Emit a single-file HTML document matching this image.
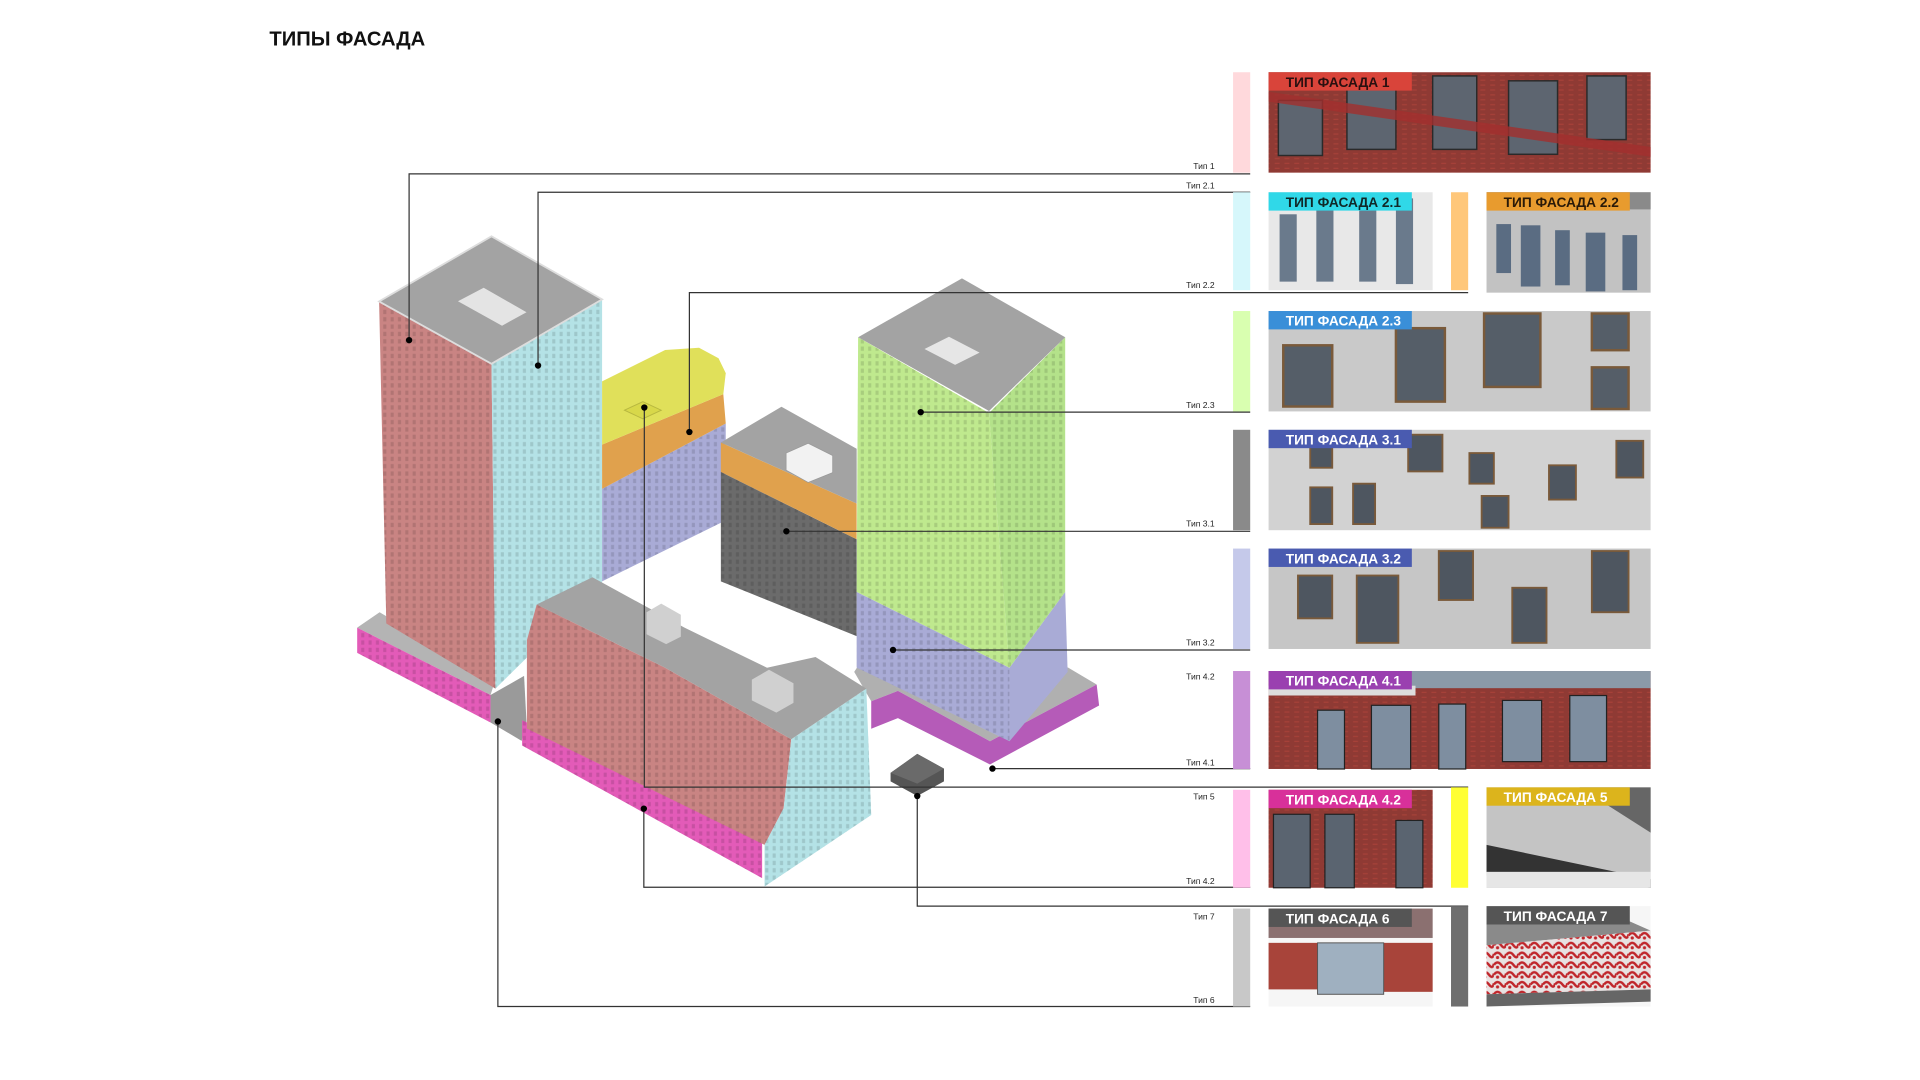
<!DOCTYPE html>
<html><head><meta charset="utf-8"><style>
html,body{margin:0;padding:0;background:#fff;width:1920px;height:1080px;overflow:hidden}
svg{display:block}
text{font-family:"Liberation Sans","DejaVu Sans",sans-serif}
</style></head><body>
<svg width="1920" height="1080" viewBox="0 0 1568 882" xmlns="http://www.w3.org/2000/svg">
<defs>
<pattern id="win" width="6" height="6" patternUnits="userSpaceOnUse"><rect width="6" height="6" fill="none"/><rect x="1" y="1" width="2.5" height="3.5" fill="#000" opacity=".12"/></pattern>
<pattern id="brick" width="8" height="4" patternUnits="userSpaceOnUse"><rect width="8" height="4" fill="#8f3a34"/><rect x="1" y="1" width="4" height="1" fill="#b0453c" opacity=".7"/></pattern>
<pattern id="tex7" width="10" height="8" patternUnits="userSpaceOnUse"><rect width="10" height="8" fill="#e8e2e2"/><path d="M0 4 Q3 0 6 4 T10 3" stroke="#c0262b" stroke-width="2" fill="none"/><circle cx="3" cy="6" r="1.3" fill="#c0262b"/></pattern>
</defs>

<text x="220" y="37" font-size="16.5" font-weight="bold" fill="#111">ТИПЫ ФАСАДА</text>

<!-- LEFT TOWER -->
<polygon points="291.7,512.6 310,500 404.6,555 400.6,567.6" fill="#b4b4b4"/>
<polygon points="291.7,512.6 400.6,567.6 400.6,590 291.7,533.2" fill="#e35bb8"/>
<polygon points="291.7,512.6 400.6,567.6 400.6,590 291.7,533.2" fill="url(#win)"/>
<polygon points="309.6,246.2 401.4,297.1 404.6,562.4 315.5,509.2" fill="#c98483"/>
<polygon points="309.6,246.2 401.4,297.1 404.6,562.4 315.5,509.2" fill="url(#win)"/>
<polygon points="401.4,297.1 491.7,244.5 491.7,476.5 404.6,562.4" fill="#b4e2e6"/>
<polygon points="401.4,297.1 491.7,244.5 491.7,476.5 404.6,562.4" fill="url(#win)"/>
<polygon points="309.6,246.2 401.4,193 491.7,244.5 401.4,297.1" fill="#a3a3a3" stroke="#ddd" stroke-width="1.5"/>
<polygon points="374,246 395,235 430,255 410,266" fill="#e4e4e4"/>

<!-- MIDDLE BACK BUILDING -->
<polygon points="491.7,399.2 592.7,345.9 592.7,425 491.7,474.8" fill="#a9abd6"/>
<polygon points="491.7,399.2 592.7,345.9 592.7,425 491.7,474.8" fill="url(#win)"/>
<polygon points="491.7,363.1 590.7,321.9 592.7,345.9 491.7,399.2" fill="#e0a14d"/>
<polygon points="491.7,311.5 543.2,285.8 570.9,284 586.8,292.6 592.7,304.7 590.7,321.9 491.7,363.1" fill="#e0e05a"/>
<polygon points="510,335 525,328 540,335 525,342" fill="#d8d84a" stroke="#b8b840" stroke-width=".8"/>

<!-- DARK CENTER BUILDING -->
<polygon points="588.7,385.4 699.6,440.4 699.6,519.5 588.7,474.8" fill="#6b6b6b"/>
<polygon points="588.7,385.4 699.6,440.4 699.6,519.5 588.7,474.8" fill="url(#win)"/>
<polygon points="588.7,361.4 699.6,411.2 699.6,440.4 588.7,385.4" fill="#e0a14d"/>
<polygon points="588.7,361.4 638.2,332.2 699.6,366.5 699.6,411.2" fill="#a3a3a3"/>
<polygon points="642,370 660,362 680,372 680,386 660,394 642,384" fill="#f2f2f2" stroke="#999" stroke-width=".6"/>

<!-- RIGHT TOWER -->
<polygon points="697.6,548.7 711.5,572.7 733.3,564.2 808.5,605.4 895.6,559 872,545 824,605 700,545" fill="#b0b0b0"/>
<polygon points="711.5,572.7 733.3,564.2 808.5,605.4 895.6,559 897.6,576.2 808.5,624.3 733.3,586.5 711.5,595.1" fill="#b55bb8"/>
<polygon points="699.6,483.4 824.4,545.3 824.4,605.4 699.6,545.2" fill="#a9abd6"/>
<polygon points="824.4,545.3 869.9,483.4 871.9,548.7 824.4,605.4" fill="#a9abd6"/>
<polygon points="699.6,483.4 824.4,545.3 824.4,605.4 699.6,545.2" fill="url(#win)"/>
<polygon points="700.8,275.4 807.7,337.3 824.4,545.3 699.6,483.4" fill="#bfe98e"/>
<polygon points="807.7,337.3 869.9,275.4 869.9,483.4 824.4,545.3" fill="#b4e28a"/>
<polygon points="700.8,275.4 807.7,337.3 824.4,545.3 699.6,483.4" fill="url(#win)"/>
<polygon points="807.7,337.3 869.9,275.4 869.9,483.4 824.4,545.3" fill="url(#win)"/>
<polygon points="700.8,275.4 785.6,227.3 869.9,275.4 807.7,335.6" fill="#a3a3a3"/>
<polygon points="755,285 775,275 800,288 780,298" fill="#e6e6e6"/>

<!-- SOUTH BUILDING -->
<polygon points="400.6,567.6 428,552 430,590 426,605 400.6,590" fill="#9a9a9a"/>
<polygon points="426.4,588.2 622.4,679.3 622.4,717.1 426.4,608.8" fill="#e35bb8"/>
<polygon points="426.4,588.2 622.4,679.3 622.4,717.1 426.4,608.8" fill="url(#win)"/>
<polygon points="438.3,493.7 543.2,545.3 646.2,603.7 640,660 624.4,690 430.3,595 430.3,522.9" fill="#c98483"/>
<polygon points="438.3,493.7 543.2,545.3 646.2,603.7 640,660 624.4,690 430.3,595 430.3,522.9" fill="url(#win)"/>
<polygon points="646.2,603.7 707.5,562.4 711.5,665.6 624.4,724 624.4,690 640,660" fill="#b4e2e6"/>
<polygon points="646.2,603.7 707.5,562.4 711.5,665.6 624.4,724 624.4,690 640,660" fill="url(#win)"/>
<polygon points="438.3,493.7 483.8,471.4 559,512.6 626.4,545.3 666,536.6 707.5,562.4 646.2,603.7 543.2,545.3" fill="#a3a3a3"/>
<polygon points="528,500 540,493 556,502 556,520 544,526 528,518" fill="#d0d0d0"/>
<polygon points="614,555 628,547 648,558 648,574 634,582 614,572" fill="#d0d0d0"/>

<!-- small box -->
<polygon points="727.3,631.2 749.1,615.7 770.9,627.7 770.9,638.1 749.1,650.1 727.3,638.1" fill="#555"/>
<polygon points="727.3,631.2 749.1,615.7 770.9,627.7 749.1,640" fill="#6a6a6a"/>

<!-- LEADERS -->
<g stroke="#333" stroke-width="1" fill="none">
<polyline points="334.1,277.8 334.1,142 1021,142"/>
<polyline points="439.4,298.5 439.4,157 1021,157"/>
<polyline points="563,352.8 563,239 1199,239"/>
<polyline points="751.9,336.6 1021,336.6"/>
<polyline points="642.2,433.9 1021,433.9"/>
<polyline points="729.3,530.8 1021,530.8"/>
<polyline points="810.5,627.7 1021,627.7"/>
<polyline points="526.2,332.8 526.2,642.8 1199,642.8"/>
<polyline points="525.8,660.4 525.8,724.6 1021,724.6"/>
<polyline points="749.1,650.1 749.1,740 1199,740"/>
<polyline points="406.6,589.2 406.6,822 1021,822"/>
</g>
<g fill="#000">
<circle cx="334.1" cy="277.8" r="2.6"/><circle cx="439.4" cy="298.5" r="2.6"/><circle cx="563" cy="352.8" r="2.6"/>
<circle cx="751.9" cy="336.6" r="2.6"/><circle cx="642.2" cy="433.9" r="2.6"/><circle cx="729.3" cy="530.8" r="2.6"/>
<circle cx="810.5" cy="627.7" r="2.6"/><circle cx="526.2" cy="332.8" r="2.6"/><circle cx="525.8" cy="660.4" r="2.6"/>
<circle cx="749.1" cy="650.1" r="2.6"/><circle cx="406.6" cy="589.2" r="2.6"/>
</g>
<g font-size="7" fill="#222" text-anchor="end">
<text x="992" y="138">Тип 1</text><text x="992" y="154">Тип 2.1</text><text x="992" y="235">Тип 2.2</text>
<text x="992" y="333">Тип 2.3</text><text x="992" y="430">Тип 3.1</text><text x="992" y="527">Тип 3.2</text>
<text x="992" y="555">Тип 4.2</text><text x="992" y="625">Тип 4.1</text><text x="992" y="653">Тип 5</text>
<text x="992" y="722">Тип 4.2</text><text x="992" y="751">Тип 7</text><text x="992" y="819">Тип 6</text>
</g>

<!-- SWATCHES -->
<rect x="1007" y="59" width="14" height="82" fill="#ffd9dc"/>
<rect x="1007" y="157" width="14" height="80" fill="#d6f7fb"/>
<rect x="1185" y="157" width="14" height="80" fill="#ffc77a"/>
<rect x="1007" y="254" width="14" height="82" fill="#d9ffb0"/>
<rect x="1007" y="351" width="14" height="82" fill="#8a8a8a"/>
<rect x="1007" y="448" width="14" height="82" fill="#c5c9ea"/>
<rect x="1007" y="548" width="14" height="80" fill="#c78fd6"/>
<rect x="1007" y="645" width="14" height="80" fill="#ffbfe9"/>
<rect x="1185" y="643" width="14" height="82" fill="#ffff33"/>
<rect x="1007" y="742" width="14" height="80" fill="#c8c8c8"/>
<rect x="1185" y="740" width="14" height="82" fill="#6e6e6e"/>

<!-- IMAGES -->
<!-- 1 -->
<rect x="1036" y="59" width="312" height="82" fill="url(#brick)"/>
<g fill="#5d6570" stroke="#2a2a2a" stroke-width="1.2">
<rect x="1044" y="82" width="36" height="45"/><rect x="1100" y="72" width="40" height="50"/><rect x="1170" y="62" width="36" height="60"/><rect x="1232" y="66" width="40" height="60"/><rect x="1296" y="62" width="32" height="52"/>
</g>
<polygon points="1036,75 1348,120 1348,128 1036,83" fill="#a3302e" opacity=".8"/>
<!-- 2.1 -->
<rect x="1036" y="157" width="134" height="80" fill="#e8e8e8"/>
<g fill="#6a7a8c"><rect x="1045" y="175" width="14" height="55"/><rect x="1075" y="170" width="14" height="60"/><rect x="1110" y="165" width="14" height="65"/><rect x="1140" y="162" width="14" height="70"/></g>
<!-- 2.2 -->
<rect x="1214" y="157" width="134" height="82" fill="#c2c2c2"/>
<rect x="1214" y="157" width="134" height="14" fill="#8a8a8a"/>
<g fill="#5a6c82"><rect x="1222" y="183" width="12" height="40"/><rect x="1242" y="184" width="16" height="50"/><rect x="1270" y="188" width="12" height="45"/><rect x="1295" y="190" width="16" height="48"/><rect x="1325" y="192" width="12" height="45"/></g>
<!-- 2.3 -->
<rect x="1036" y="254" width="312" height="82" fill="#c9c9c9"/>
<g fill="#555e68" stroke="#7a5a3a" stroke-width="2"><rect x="1048" y="282" width="40" height="50"/><rect x="1140" y="268" width="40" height="60"/><rect x="1212" y="256" width="46" height="60"/><rect x="1300" y="256" width="30" height="30"/><rect x="1300" y="300" width="30" height="34"/></g>
<!-- 3.1 -->
<rect x="1036" y="351" width="312" height="82" fill="#d2d2d2"/>
<g fill="#4e5660" stroke="#7a5a3a" stroke-width="1.5"><rect x="1070" y="362" width="18" height="20"/><rect x="1070" y="398" width="18" height="30"/><rect x="1105" y="395" width="18" height="33"/><rect x="1150" y="355" width="28" height="30"/><rect x="1200" y="370" width="20" height="25"/><rect x="1210" y="405" width="22" height="26"/><rect x="1265" y="380" width="22" height="28"/><rect x="1320" y="360" width="22" height="30"/></g>
<!-- 3.2 -->
<rect x="1036" y="448" width="312" height="82" fill="#c6c6c6"/>
<g fill="#4e5660" stroke="#7a5a3a" stroke-width="1.5"><rect x="1060" y="470" width="28" height="35"/><rect x="1108" y="470" width="34" height="55"/><rect x="1175" y="450" width="28" height="40"/><rect x="1235" y="480" width="28" height="45"/><rect x="1300" y="450" width="30" height="50"/></g>
<!-- 4.1 -->
<rect x="1036" y="548" width="312" height="80" fill="url(#brick)"/>
<rect x="1150" y="548" width="198" height="14" fill="#8b9aa8"/>
<rect x="1036" y="560" width="120" height="8" fill="#ddd"/>
<g fill="#7e8ea0" stroke="#222" stroke-width="1"><rect x="1076" y="580" width="22" height="48"/><rect x="1120" y="576" width="32" height="52"/><rect x="1175" y="575" width="22" height="53"/><rect x="1227" y="572" width="32" height="50"/><rect x="1282" y="568" width="30" height="54"/></g>
<!-- 4.2 -->
<rect x="1036" y="645" width="134" height="80" fill="url(#brick)"/>
<g fill="#5a6470" stroke="#222" stroke-width="1"><rect x="1040" y="665" width="30" height="60"/><rect x="1082" y="665" width="24" height="60"/><rect x="1140" y="670" width="22" height="55"/></g>
<!-- 5 -->
<rect x="1214" y="643" width="134" height="82" fill="#c4c4c4"/>
<polygon points="1290,643 1348,643 1348,680" fill="#666"/>
<polygon points="1214,690 1348,718 1348,725 1214,715" fill="#333"/>
<rect x="1214" y="712" width="134" height="13" fill="#e6e6e6"/>
<!-- 6 -->
<rect x="1036" y="742" width="134" height="80" fill="#f6f6f6"/>
<rect x="1036" y="770" width="40" height="38" fill="#a8443a"/><rect x="1130" y="770" width="40" height="40" fill="#a8443a"/>
<rect x="1076" y="770" width="54" height="42" fill="#9fb0c0" stroke="#555" stroke-width=".8"/>
<rect x="1036" y="742" width="134" height="24" fill="#8b7070"/>
<!-- 7 -->
<rect x="1214" y="740" width="134" height="82" fill="#f6f6f6"/>
<polygon points="1214,754 1330,752 1348,760 1214,772" fill="#8a8a8a"/>
<polygon points="1214,772 1348,760 1348,808 1214,812" fill="url(#tex7)"/>
<polygon points="1214,812 1348,808 1348,818 1214,822" fill="#666"/>

<!-- CHIPS -->
<g font-size="11.2" font-weight="bold">
<rect x="1036" y="59" width="117" height="15" fill="#d9443a"/><text x="1050" y="71" fill="#2a1010">ТИП ФАСАДА 1</text>
<rect x="1036" y="157" width="117" height="15" fill="#30d8e8"/><text x="1050" y="169" fill="#102828">ТИП ФАСАДА 2.1</text>
<rect x="1214" y="157" width="117" height="15" fill="#e89b2e"/><text x="1228" y="169" fill="#2a1a08">ТИП ФАСАДА 2.2</text>
<rect x="1036" y="254" width="117" height="15" fill="#3a8fd8"/><text x="1050" y="266" fill="#fff">ТИП ФАСАДА 2.3</text>
<rect x="1036" y="351" width="117" height="15" fill="#4a5bb0"/><text x="1050" y="363" fill="#fff">ТИП ФАСАДА 3.1</text>
<rect x="1036" y="448" width="117" height="15" fill="#4a5bb0"/><text x="1050" y="460" fill="#fff">ТИП ФАСАДА 3.2</text>
<rect x="1036" y="548" width="117" height="15" fill="#9a40b0"/><text x="1050" y="560" fill="#fff">ТИП ФАСАДА 4.1</text>
<rect x="1036" y="645" width="117" height="15" fill="#d8309a"/><text x="1050" y="657" fill="#fff">ТИП ФАСАДА 4.2</text>
<rect x="1214" y="643" width="117" height="15" fill="#dcb41c"/><text x="1228" y="655" fill="#fff">ТИП ФАСАДА 5</text>
<rect x="1036" y="742" width="117" height="15" fill="#555"/><text x="1050" y="754" fill="#fff">ТИП ФАСАДА 6</text>
<rect x="1214" y="740" width="117" height="15" fill="#555"/><text x="1228" y="752" fill="#fff">ТИП ФАСАДА 7</text>
</g>
</svg>
</body></html>
